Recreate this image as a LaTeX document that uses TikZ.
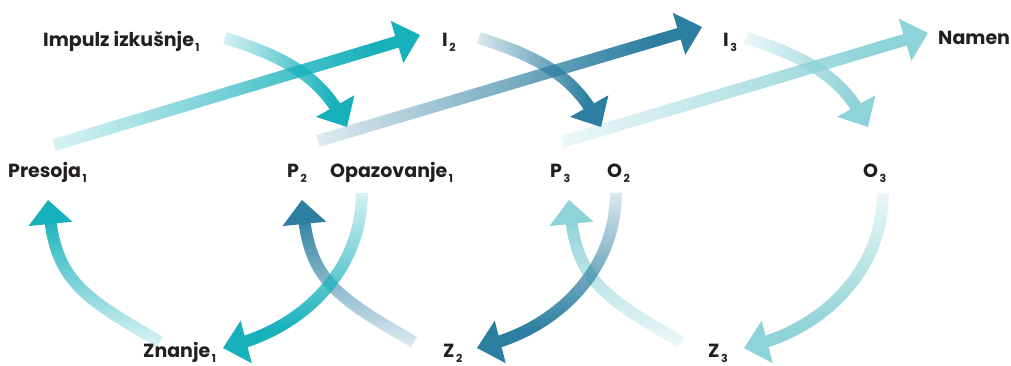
\documentclass[tikz,border=0pt]{standalone}
\usepackage{fontspec}
\setmainfont{Poppins}
\usetikzlibrary{arrows.meta,fadings}
\definecolor{cteal}{HTML}{17B1BB}
\definecolor{cdark}{HTML}{2C7FA0}
\definecolor{clight}{HTML}{8ED3D8}
\definecolor{ctext}{HTML}{231F20}
\newcommand\lsub[1]{\kern1.5pt\raisebox{-4.5pt}{\fontsize{11}{11}\selectfont #1}}
% the fitted part of a fading picture is its middle 50bp x 50bp square
\begin{tikzfadingfrompicture}[name=grow]
  \fill[transparent!100] (-50bp,-50bp) rectangle (-24.8bp,50bp);
  \shade[left color=transparent!86, right color=transparent!0] (-25bp,-50bp) rectangle (18bp,50bp);
  \fill[transparent!0] (17.8bp,-50bp) rectangle (50bp,50bp);
\end{tikzfadingfrompicture}
\tikzset{
  arrshaft/.style 2 args={line width=12pt, line cap=butt, shorten >=12pt, draw=#1, path fading=grow, fading angle=#2},
  headonly/.style={line width=12pt, draw=#1, dash pattern=on 0pt off 2000pt, -{Triangle[length=24pt,width=44pt,line width=0pt]}},
  lbl/.style={inner sep=0pt, anchor=base west, font=\fontsize{19}{19}\selectfont\bfseries, text=ctext},
}
\begin{document}
\begin{tikzpicture}[x=1pt,y=1pt]
\fill[white] (0,0) rectangle (1011,366);
\useasboundingbox (0,0) rectangle (1011,366);
% labels
\node[lbl] (impulz) at (43,319) {Impulz izkušnje\lsub{1}};
\node[lbl] (i2) at (442,319) {I\lsub{2}};
\node[lbl] (i3) at (723,319) {I\lsub{3}};
\node[lbl] (namen) at (938,321) {Namen};
\node[lbl] (presoja) at (8,188) {Presoja\lsub{1}};
\node[lbl] (p2) at (287,188) {P\lsub{2}};
\node[lbl] (opaz) at (330,188) {Opazovanje\lsub{1}};
\node[lbl] (p3) at (550,188) {P\lsub{3}};
\node[lbl] (o2) at (607,188) {O\lsub{2}};
\node[lbl] (o3) at (863,188) {O\lsub{3}};
\node[lbl] (znanje) at (143,8) {Znanje\lsub{1}};
\node[lbl] (z2) at (443,8) {Z\lsub{2}};
\node[lbl] (z3) at (708,8) {Z\lsub{3}};
% arrow end points
\coordinate (s1a) at (54,221);  \coordinate (s1b) at (420,331);
\coordinate (s2a) at (318,225); \coordinate (s2b) at (702,339);
\coordinate (s3a) at (562,224); \coordinate (s3b) at (928,333);
\foreach \k/\dx in {1/0,2/254,3/521}{
  \coordinate (t\k a) at (225+\dx,328); \coordinate (t\k b) at (347+\dx,239);
  \coordinate (b\k a) at (160+\dx,24);  \coordinate (b\k b) at (48+\dx,166);
  \coordinate (c\k a) at (362+\dx,173); \coordinate (c\k b) at (223+\dx,18);
}
% straight arrows
\foreach \k/\c in {1/cteal,2/cdark,3/clight}{
  \draw[arrshaft={\c}{0}] (s\k a) -- (s\k b);
  \draw[headonly=\c] (s\k a) -- (s\k b);
}
% top curves
\foreach \k/\c in {1/cteal,2/cdark,3/clight}{
  \draw[arrshaft={\c}{0}] (t\k a) .. controls +(57,-18) and +(-29.4,52.2) .. (t\k b);
  \draw[headonly=\c] (t\k a) .. controls +(57,-18) and +(-29.4,52.2) .. (t\k b);
}
% bottom curves: Z -> P
\foreach \k/\c in {1/cteal,2/cdark,3/clight}{
  \draw[arrshaft={\c}{90}] (b\k a) .. controls +(-78,45) and +(8,-80) .. (b\k b);
  \draw[headonly=\c] (b\k a) .. controls +(-78,45) and +(8,-80) .. (b\k b);
}
% bottom curves: O -> Z
\foreach \k/\c in {1/cteal,2/cdark,3/clight}{
  \draw[arrshaft={\c}{-90}] (c\k a) .. controls +(0,-80) and +(77,20) .. (c\k b);
  \draw[headonly=\c] (c\k a) .. controls +(0,-80) and +(77,20) .. (c\k b);
}
\end{tikzpicture}
\end{document}
